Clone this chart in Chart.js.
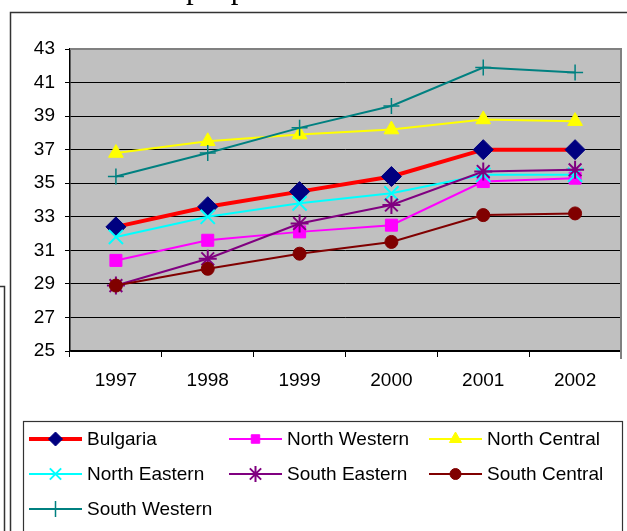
<!DOCTYPE html>
<html>
<head>
<meta charset="utf-8">
<style>
  html, body { margin: 0; padding: 0; background: #fff; }
  #wrap { position: relative; width: 627px; height: 531px; overflow: hidden; }
  canvas { display: block; }
</style>
<script src="https://cdn.jsdelivr.net/npm/chart.js@4/dist/chart.umd.min.js"></script>
</head>
<body>
<div id="wrap"><canvas id="c" width="627" height="531"></canvas></div>
<script>
// ---- data ----
const years = ['1997', '1998', '1999', '2000', '2001', '2002'];
const yTicks = [25, 27, 29, 31, 33, 35, 37, 39, 41, 43];
const bulgaria     = [32.4, 33.6, 34.5, 35.4, 37.0, 37.0];
const northWestern = [30.4, 31.6, 32.1, 32.5, 35.1, 35.3];
const northCentral = [36.8, 37.5, 37.9, 38.2, 38.8, 38.7];
const northEastern = [31.8, 33.0, 33.8, 34.4, 35.5, 35.5];
const southEastern = [28.9, 30.5, 32.6, 33.7, 35.7, 35.8];
const southCentral = [28.9, 29.9, 30.8, 31.5, 33.1, 33.2];
const southWestern = [35.4, 36.8, 38.3, 39.6, 41.9, 41.6];
const seriesNames = ['Bulgaria', 'North Western', 'North Central', 'North Eastern',
                     'South Eastern', 'South Central', 'South Western'];
const titleText = 'people';

const FONT = '"Liberation Sans", Arial, sans-serif';

const styles = [
  { line: '#FF0000', lw: 4, ps: 'rectRot', r: 10, fill: '#000080', stroke: '#000080', bw: 1, lr: 7 },
  { line: '#FF00FF', lw: 2, ps: 'rect', r: 8.5, fill: '#FF00FF', stroke: '#FF00FF', bw: 1, lr: 6 },
  { line: '#FFFF00', lw: 2, ps: 'triangle', r: 8.5, fill: '#FFFF00', stroke: '#FFFF00', bw: 1, lr: 7 },
  { line: '#00FFFF', lw: 2, ps: 'crossRot', r: 10, fill: '#00FFFF', stroke: '#00FFFF', bw: 2, lr: 8 },
  { line: '#800080', lw: 2, ps: 'star', r: 9, fill: '#800080', stroke: '#800080', bw: 2, lr: 8 },
  { line: '#800000', lw: 2, ps: 'circle', r: 6.5, fill: '#800000', stroke: '#800000', bw: 1, lr: 5.5 },
  { line: '#008080', lw: 2, ps: 'cross', r: 8, fill: '#008080', stroke: '#008080', bw: 1.5, lr: 8 }
];
const values = [bulgaria, northWestern, northCentral, northEastern, southEastern, southCentral, southWestern];

const datasets = values.map((v, i) => ({
  label: seriesNames[i],
  data: v,
  borderColor: styles[i].line,
  borderWidth: styles[i].lw,
  backgroundColor: styles[i].fill,
  pointStyle: styles[i].ps,
  pointRadius: styles[i].r,
  pointBackgroundColor: styles[i].fill,
  pointBorderColor: styles[i].stroke,
  pointBorderWidth: styles[i].bw,
  tension: 0,
  fill: false,
  order: values.length - i,
  clip: false
}));

const framePlugin = {
  id: 'frame',
  beforeDraw(chart) {
    const ctx = chart.ctx;
    const a = chart.chartArea;
    ctx.save();
    // clipped title text at top (only descenders visible)
    ctx.fillStyle = '#000';
    ctx.font = '31px "Liberation Serif", "Times New Roman", serif';
    ctx.textBaseline = 'alphabetic';
    ctx.textAlign = 'left';
    ctx.fillText(titleText, 186, -2.5);
    // outer frames
    ctx.strokeStyle = '#333';
    ctx.lineWidth = 1.5;
    ctx.beginPath();
    ctx.moveTo(10.5, 540); ctx.lineTo(10.5, 12.5); ctx.lineTo(640, 12.5);
    ctx.stroke();
    ctx.beginPath();
    ctx.moveTo(-2, 286.5); ctx.lineTo(4.5, 286.5); ctx.lineTo(4.5, 540);
    ctx.stroke();
    // plot background
    ctx.fillStyle = '#C0C0C0';
    ctx.fillRect(a.left, a.top, a.right - a.left, a.bottom - a.top);
    ctx.restore();
  },
  beforeDatasetsDraw(chart) {
    const ctx = chart.ctx;
    const a = chart.chartArea;
    ctx.save();
    ctx.strokeStyle = '#808080';
    ctx.lineWidth = 2;
    ctx.beginPath();
    ctx.moveTo(a.left, a.top);
    ctx.lineTo(a.right, a.top);
    ctx.lineTo(a.right, a.bottom + 8);
    ctx.stroke();
    ctx.restore();
  },
  afterDraw(chart) {
    const ctx = chart.ctx;
    const H = Chart.helpers || {};
    ctx.save();
    // legend box
    ctx.strokeStyle = '#333';
    ctx.lineWidth = 1.2;
    ctx.strokeRect(23.5, 421.5, 599, 130);
    const colX = [29, 229, 429];
    const rowY = [439, 474, 509];
    ctx.font = '19px ' + FONT;
    ctx.textBaseline = 'middle';
    ctx.textAlign = 'left';
    chart.data.datasets.forEach((ds, i) => {
      const st = styles[i];
      const x = colX[i % 3], y = rowY[Math.floor(i / 3)];
      ctx.strokeStyle = ds.borderColor;
      ctx.lineWidth = ds.borderWidth;
      ctx.beginPath();
      ctx.moveTo(x, y); ctx.lineTo(x + 53, y);
      ctx.stroke();
      ctx.fillStyle = ds.pointBackgroundColor;
      ctx.strokeStyle = ds.pointBorderColor;
      ctx.lineWidth = ds.pointBorderWidth;
      if (H.drawPoint) {
        H.drawPoint(ctx, { pointStyle: ds.pointStyle, radius: st.lr, rotation: 0, borderWidth: ds.pointBorderWidth }, x + 26.5, y);
      }
      ctx.fillStyle = '#000';
      ctx.fillText(ds.label, x + 58, y + 1);
    });
    ctx.restore();
  }
};

new Chart(document.getElementById('c'), {
  type: 'line',
  data: { labels: years, datasets },
  options: {
    responsive: false,
    animation: false,
    events: [],
    layout: { autoPadding: false, padding: { left: 0, top: 49, right: 6, bottom: 0 } },
    plugins: { legend: { display: false }, title: { display: false }, tooltip: { enabled: false } },
    scales: {
      x: {
        type: 'category',
        offset: true,
        grid: { offset: true, drawOnChartArea: false, drawTicks: true, tickLength: 6, color: '#000', lineWidth: 1 },
        border: { display: true, color: '#000', width: 1.5 },
        ticks: { color: '#000', font: { family: FONT, size: 19 }, padding: 12, maxRotation: 0, autoSkip: false },
        afterFit(s) { s.height = 180; s.paddingLeft = 0; s.paddingRight = 0; }
      },
      y: {
        min: 25, max: 43,
        afterBuildTicks(s) { s.ticks = yTicks.map(v => ({ value: v })); },
        grid: { drawOnChartArea: true, drawTicks: true, tickLength: 5, color: '#000', lineWidth: 1 },
        border: { display: true, color: '#000', width: 1.5 },
        ticks: { color: '#000', font: { family: FONT, size: 19 }, padding: 10 },
        afterFit(s) { s.width = 70; s.paddingTop = 0; s.paddingBottom = 0; }
      }
    }
  },
  plugins: [framePlugin]
});
</script>
</body>
</html>
